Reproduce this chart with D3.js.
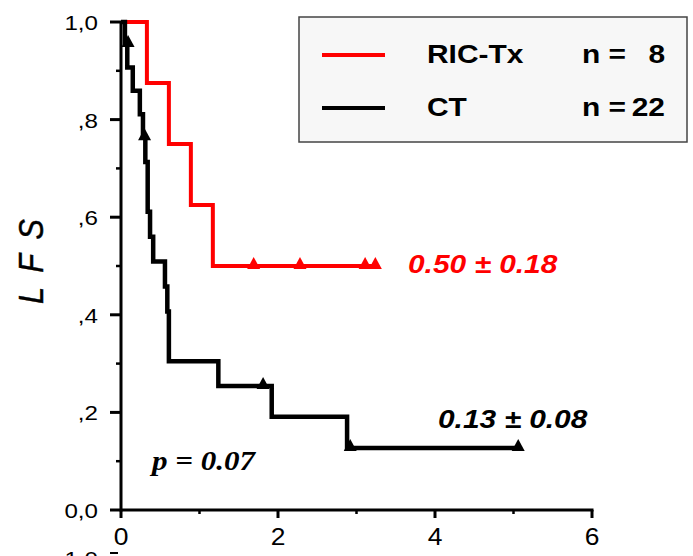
<!DOCTYPE html>
<html>
<head>
<meta charset="utf-8">
<script src="https://cdn.jsdelivr.net/npm/d3@7"></script>
<style>
  html, body { margin: 0; padding: 0; background: #fff; overflow: hidden; }
  svg { display: block; }
</style>
</head>
<body>
<svg id="chart" width="693" height="556"></svg>
<script>
// ---- data ----
const ricTimes = [0, 0.33, 0.61, 0.89, 1.17, 3.24];
const ricSurv  = [1.0, 0.875, 0.75, 0.625, 0.5, 0.5];
const ricCensorTimes = [1.69, 2.28, 3.11, 3.24];
const ricCensorSurv  = [0.5, 0.5, 0.5, 0.5];

const ctTimes = [0, 0.05, 0.08, 0.15, 0.24, 0.28, 0.31, 0.34, 0.37, 0.41, 0.56, 0.59, 0.61, 1.24, 1.92, 2.88, 5.06];
const ctSurv  = [1.0, 0.955, 0.907, 0.859, 0.811, 0.764, 0.713, 0.611, 0.560, 0.509, 0.458, 0.407, 0.305, 0.254, 0.191, 0.127, 0.127];
const ctCensorTimes = [0.09, 0.30, 1.81, 2.92, 5.06];
const ctCensorSurv  = [0.955, 0.764, 0.254, 0.127, 0.127];

const xTicks = [0, 2, 4, 6];
const xTickLabels = ["0", "2", "4", "6"];
const xMinorTicks = [1, 3, 5];
const yTicks = [0, 0.2, 0.4, 0.6, 0.8, 1.0];
const yTickLabels = ["0,0", ",2", ",4", ",6", ",8", "1,0"];
const yMinorTicks = [0.1, 0.3, 0.5, 0.7, 0.9];

const legendNames = ["RIC-Tx", "CT"];
const legendN = ["8", "22"];
const legendColors = ["#ff0000", "#000000"];
const ricLabel = "0.50 \u00B1 0.18";
const ctLabel = "0.13 \u00B1 0.08";
const pLabel = "p = 0.07";
const yTitle = "L F S";

// ---- layout ----
const SX = 1.15; // horizontal stretch of the original picture
const svg = d3.select("#chart");
const x = d3.scaleLinear().domain([0, 6]).range([121, 592]);
const y = d3.scaleLinear().domain([0, 1]).range([510, 22]);

function stext(g, px, py, str, opts) {
  return g.append("text")
    .attr("transform", `translate(${px},${py}) scale(${SX},1)`)
    .attr("text-anchor", opts.anchor || "start")
    .style("font-family", opts.family || "'Liberation Sans', Arial, sans-serif")
    .style("font-size", opts.size + "px")
    .style("font-weight", opts.weight || "normal")
    .style("font-style", opts.style || "normal")
    .attr("fill", opts.fill || "#000")
    .text(str);
}

// axes
const axG = svg.append("g");
axG.append("line").attr("x1", x(0)).attr("x2", x(0)).attr("y1", y(1) - 1).attr("y2", y(0) + 1.5)
  .attr("stroke", "#000").attr("stroke-width", 3);
axG.append("line").attr("x1", x(0) - 1).attr("x2", x(6) + 1.5).attr("y1", y(0)).attr("y2", y(0))
  .attr("stroke", "#000").attr("stroke-width", 3);

yTicks.forEach((v, i) => {
  axG.append("line").attr("x1", x(0) - 11).attr("x2", x(0)).attr("y1", y(v)).attr("y2", y(v))
    .attr("stroke", "#000").attr("stroke-width", 3);
  stext(axG, 98, y(v) + 8, yTickLabels[i], { size: 21, anchor: "end" });
});
yMinorTicks.forEach(v => {
  axG.append("line").attr("x1", x(0) - 5).attr("x2", x(0)).attr("y1", y(v)).attr("y2", y(v))
    .attr("stroke", "#000").attr("stroke-width", 2.5);
});
xTicks.forEach((v, i) => {
  axG.append("line").attr("x1", x(v)).attr("x2", x(v)).attr("y1", y(0)).attr("y2", y(0) + 8)
    .attr("stroke", "#000").attr("stroke-width", 3);
  stext(axG, x(v), 545, xTickLabels[i], { size: 23, anchor: "middle" });
});
xMinorTicks.forEach(v => {
  axG.append("line").attr("x1", x(v)).attr("x2", x(v)).attr("y1", y(0)).attr("y2", y(0) + 4)
    .attr("stroke", "#000").attr("stroke-width", 2.5);
});

// y title (rotated, italic)
axG.append("text")
  .attr("transform", `translate(43,260) scale(${SX},1) rotate(-90)`)
  .attr("text-anchor", "middle")
  .style("font-family", "'Liberation Sans', Arial, sans-serif")
  .style("font-size", "31px")
  .style("font-style", "italic")
  .style("letter-spacing", "3px")
  .attr("stroke", "#000").attr("stroke-width", 0.4)
  .text(yTitle);

// next chart's top label, cut off at the bottom edge as in the original
stext(axG, 98, 566, "1,0", { size: 21, anchor: "end" });
axG.append("line").attr("x1", 110).attr("x2", 118).attr("y1", 553).attr("y2", 553)
  .attr("stroke", "#000").attr("stroke-width", 2);

// curves
const line = d3.line().x(d => x(d[0])).y(d => y(d[1])).curve(d3.curveStepAfter);
const ricData = ricTimes.map((t, i) => [t, ricSurv[i]]);
const ctData = ctTimes.map((t, i) => [t, ctSurv[i]]);

svg.append("path").datum(ricData).attr("d", line)
  .attr("fill", "none").attr("stroke", "#ff0000").attr("stroke-width", 4);
svg.append("path").datum(ctData).attr("d", line)
  .attr("fill", "none").attr("stroke", "#000").attr("stroke-width", 4.5);

function tri(g, data, color) {
  g.selectAll(null).data(data).enter().append("path")
    .attr("d", d => {
      const px = x(d[0]), py = y(d[1]);
      return `M${px},${py - 9}L${px + 6.5},${py + 3}L${px - 6.5},${py + 3}Z`;
    })
    .attr("fill", color);
}
tri(svg, ricCensorTimes.map((t, i) => [t, ricCensorSurv[i]]), "#ff0000");
tri(svg, ctCensorTimes.map((t, i) => [t, ctCensorSurv[i]]), "#000");

// annotations
stext(svg, 408, 273, ricLabel, { size: 26, weight: "bold", style: "italic", fill: "#ff0000" });
stext(svg, 438, 428, ctLabel, { size: 26, weight: "bold", style: "italic" });
stext(svg, 152, 470, pLabel, { size: 27, weight: "bold", style: "italic",
  family: "'Liberation Serif', 'Times New Roman', serif" });

// legend
const lg = svg.append("g");
lg.append("rect").attr("x", 299).attr("y", 17).attr("width", 388).attr("height", 125)
  .attr("fill", "#f7f7f7").attr("stroke", "#444").attr("stroke-width", 1.5);
const rowsY = [55, 108];
legendNames.forEach((name, i) => {
  lg.append("line").attr("x1", 322).attr("x2", 385).attr("y1", rowsY[i]).attr("y2", rowsY[i])
    .attr("stroke", legendColors[i]).attr("stroke-width", 4);
  stext(lg, 427, rowsY[i] + 8, name, { size: 26, weight: "bold" });
  stext(lg, 582, rowsY[i] + 8, "n =", { size: 26, weight: "bold" });
  stext(lg, 665, rowsY[i] + 8, legendN[i], { size: 26, weight: "bold", anchor: "end" });
});
</script>
</body>
</html>
